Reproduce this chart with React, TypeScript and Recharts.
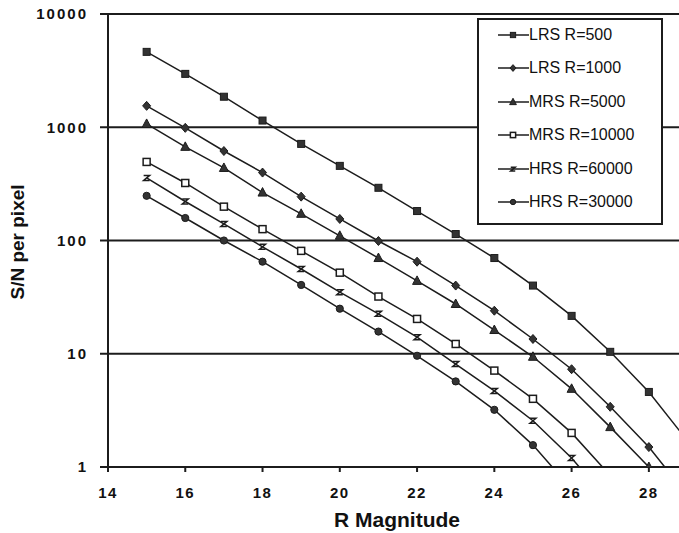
import React from 'react';
import { LineChart, Line, XAxis, YAxis, CartesianGrid, Legend, Label } from 'recharts';

const magnitudes = [15, 16, 17, 18, 19, 20, 21, 22, 23, 24, 25, 26, 27, 28, 29];
const lrs500 = [4630, 2960, 1860, 1146, 713, 456, 292, 182, 114, 70, 40, 21.6, 10.4, 4.6, 1.7];
const lrs1000 = [1545, 988, 617, 398, 244, 155, 99, 65, 40, 24, 13.5, 7.3, 3.4, 1.5, 0.56];
const mrs5000 = [1070, 671, 437, 265, 172, 110, 70, 44, 27.5, 16.2, 9.4, 4.9, 2.25, 1.0, 0.45];
const mrs10000 = [494, 322, 199, 126, 81, 52, 32, 20.3, 12.2, 7.1, 4.0, 2.0, 0.84, null, null];
const hrs60000 = [357, 221, 140, 88, 56, 35, 22.5, 14, 8.1, 4.7, 2.56, 1.2, 0.48, null, null];
const hrs30000 = [248, 158, 100, 65, 40.5, 25, 15.7, 9.6, 5.7, 3.2, 1.56, 0.64, null, null, null];

const xTicks = [14, 16, 18, 20, 22, 24, 26, 28];
const yTicks = [1, 10, 100, 1000, 10000];

const seriesNames = ['LRS R=500', 'LRS R=1000', 'MRS R=5000', 'MRS R=10000', 'HRS R=60000', 'HRS R=30000'];
const seriesKeys = ['lrs500', 'lrs1000', 'mrs5000', 'mrs10000', 'hrs60000', 'hrs30000'];
const seriesShapes = ['square', 'diamond', 'triangle', 'opensquare', 'dash', 'circle'];

const data = magnitudes.map((m, i) => ({
  m,
  lrs500: lrs500[i],
  lrs1000: lrs1000[i],
  mrs5000: mrs5000[i],
  mrs10000: mrs10000[i],
  hrs60000: hrs60000[i],
  hrs30000: hrs30000[i],
}));

const INK = '#1c1c1c';
const FONT = '"Liberation Sans", Arial, sans-serif';

function Marker({ shape, cx, cy, s = 1 }: { shape: string; cx: number; cy: number; s?: number }) {
  switch (shape) {
    case 'square':
      return <rect x={cx - 3.5 * s} y={cy - 3.5 * s} width={7 * s} height={7 * s} fill="#333" stroke={INK} strokeWidth={1} />;
    case 'diamond':
      return (
        <polygon
          points={`${cx},${cy - 4.5 * s} ${cx + 4 * s},${cy} ${cx},${cy + 4.5 * s} ${cx - 4 * s},${cy}`}
          fill="#333"
          stroke={INK}
          strokeWidth={1}
        />
      );
    case 'triangle':
      return (
        <polygon
          points={`${cx},${cy - 5 * s} ${cx + 4.5 * s},${cy + 3.5 * s} ${cx - 4.5 * s},${cy + 3.5 * s}`}
          fill="#333"
          stroke={INK}
          strokeWidth={1}
        />
      );
    case 'opensquare':
      return <rect x={cx - 3.5 * s} y={cy - 3.5 * s} width={7 * s} height={7 * s} fill="#fff" stroke={INK} strokeWidth={1.5} />;
    case 'dash':
      return (
        <path
          d={`M${cx - 3 * s},${cy - 2.5 * s} L${cx + 3 * s},${cy - 2.5 * s} L${cx - 3 * s},${cy + 2.5 * s} L${cx + 3 * s},${cy + 2.5 * s}`}
          fill="none"
          stroke={INK}
          strokeWidth={1.5}
        />
      );
    case 'circle':
    default:
      return <circle cx={cx} cy={cy} r={3.6 * s} fill="#333" stroke={INK} strokeWidth={1} />;
  }
}

function makeDot(shape: string) {
  return (props: any) => {
    const { cx, cy, index } = props;
    if (cx == null || cy == null || isNaN(cx) || isNaN(cy)) return <g key={`d-${shape}-${index}`} />;
    return (
      <g key={`d-${shape}-${index}`}>
        <Marker shape={shape} cx={cx} cy={cy} />
      </g>
    );
  };
}

function LegendBox() {
  return (
    <div
      style={{
        width: 186,
        height: 207,
        boxSizing: 'border-box',
        border: `2px solid ${INK}`,
        background: '#fff',
        fontFamily: FONT,
        fontSize: 16,
        color: '#111',
        overflow: 'hidden',
      }}
    >
      <div style={{ position: 'relative', top: -2 }}>
        {seriesNames.map((name, i) => (
          <div key={name} style={{ height: 33.5, display: 'flex', alignItems: 'center' }}>
            <svg width={52} height={14} style={{ display: 'block', marginLeft: 17 }}>
              <line x1={2} y1={7} x2={33} y2={7} stroke={INK} strokeWidth={1.5} />
              <Marker shape={seriesShapes[i]} cx={17} cy={7} s={0.75} />
            </svg>
            <span style={{ marginLeft: -19, whiteSpace: 'nowrap' }}>{name}</span>
          </div>
        ))}
      </div>
    </div>
  );
}

const renderYLabel = () => (
  <text
    x={17}
    y={242}
    transform="rotate(-90 17 242)"
    textAnchor="middle"
    dominantBaseline="central"
    fontFamily={FONT}
    fontWeight="bold"
    fontSize={19}
    fill="#111"
  >
    S/N per pixel
  </text>
);

const renderXLabel = () => (
  <text x={397} y={527} textAnchor="middle" fontFamily={FONT} fontWeight="bold" fontSize={21} fill="#111">
    R Magnitude
  </text>
);

export default function App() {
  return (
    <div style={{ position: 'absolute', left: 0, top: 0, width: 679, height: 533, background: '#fff' }}>
      <LineChart width={679} height={533} data={data} margin={{ top: 14, right: 0, bottom: 0, left: 0 }}>
        <CartesianGrid vertical={false} stroke={INK} strokeWidth={2} />
        <XAxis
          dataKey="m"
          type="number"
          domain={[14, 28.78]}
          ticks={xTicks}
          allowDataOverflow
          height={66}
          tickSize={5}
          tickMargin={15}
          axisLine={{ stroke: INK, strokeWidth: 2 }}
          tickLine={{ stroke: INK, strokeWidth: 2 }}
          tick={{ fill: '#111', fontFamily: FONT, fontWeight: 'bold', fontSize: 15, letterSpacing: 1.5 }}
        >
          <Label content={renderXLabel} />
        </XAxis>
        <YAxis
          scale="log"
          type="number"
          domain={[1, 10000]}
          ticks={yTicks}
          allowDataOverflow
          width={108}
          tickSize={8}
          tickMargin={12}
          axisLine={{ stroke: INK, strokeWidth: 2 }}
          tickLine={{ stroke: INK, strokeWidth: 2 }}
          tick={{ fill: '#111', fontFamily: FONT, fontWeight: 'bold', fontSize: 15, letterSpacing: 2 }}
        >
          <Label content={renderYLabel} />
        </YAxis>
        <Legend
          layout="vertical"
          align="center"
          verticalAlign="middle"
          wrapperStyle={{ left: 477, top: 18, width: 186, height: 207 }}
          content={() => <LegendBox />}
        />
        {seriesKeys.map((k, i) => (
          <Line
            key={k}
            dataKey={k}
            name={seriesNames[i]}
            type="linear"
            stroke={INK}
            strokeWidth={1.5}
            dot={makeDot(seriesShapes[i])}
            activeDot={false}
            isAnimationActive={false}
            connectNulls={false}
          />
        ))}
      </LineChart>
    </div>
  );
}
